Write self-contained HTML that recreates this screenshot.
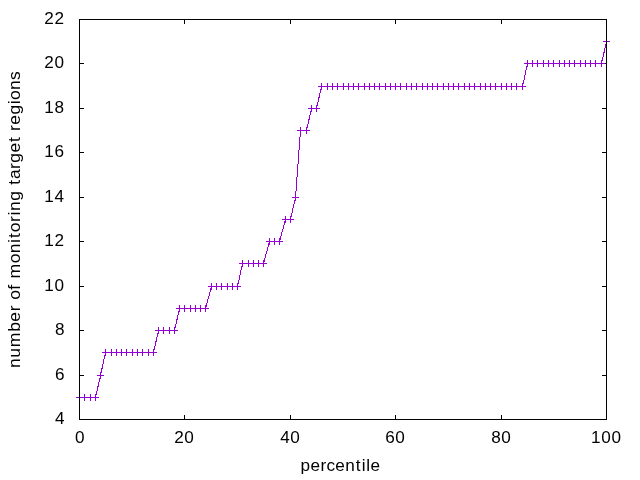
<!DOCTYPE html>
<html><head><meta charset="utf-8"><title>percentile chart</title><style>
html,body{margin:0;padding:0;background:#fff;width:640px;height:480px;overflow:hidden}
svg{display:block;will-change:transform}
text{font-family:"Liberation Sans", sans-serif;font-size:17px;fill:#000}
</style></head><body>
<svg width="640" height="480" viewBox="0 0 640 480">
<rect width="640" height="480" fill="#fff"/>
<path d="M79,419.5h5M607,419.5h-5M79,375.5h5M607,375.5h-5M79,330.5h5M607,330.5h-5M79,286.5h5M607,286.5h-5M79,241.5h5M607,241.5h-5M79,197.5h5M607,197.5h-5M79,152.5h5M607,152.5h-5M79,108.5h5M607,108.5h-5M79,63.5h5M607,63.5h-5M79,19.5h5M607,19.5h-5M79.5,420v-5M79.5,19v5M184.5,420v-5M184.5,19v5M290.5,420v-5M290.5,19v5M395.5,420v-5M395.5,19v5M501.5,420v-5M501.5,19v5M606.5,420v-5M606.5,19v5" stroke="#000" stroke-width="1" fill="none" shape-rendering="crispEdges"/>
<g stroke="#9400d3" stroke-width="1" fill="none" shape-rendering="crispEdges">
<path d="M79.5,397.5L84.5,397.5L90.5,397.5L95.5,397.5L100.5,375.5L105.5,352.5L111.5,352.5L116.5,352.5L121.5,352.5L126.5,352.5L132.5,352.5L137.5,352.5L142.5,352.5L148.5,352.5L153.5,352.5L158.5,330.5L163.5,330.5L169.5,330.5L174.5,330.5L179.5,308.5L184.5,308.5L190.5,308.5L195.5,308.5L200.5,308.5L205.5,308.5L211.5,286.5L216.5,286.5L221.5,286.5L227.5,286.5L232.5,286.5L237.5,286.5L242.5,263.5L248.5,263.5L253.5,263.5L258.5,263.5L263.5,263.5L269.5,241.5L274.5,241.5L279.5,241.5L285.5,219.5L290.5,219.5L295.5,197.5L300.5,130.5L306.5,130.5L311.5,108.5L316.5,108.5L321.5,86.5L327.5,86.5L332.5,86.5L337.5,86.5L343.5,86.5L348.5,86.5L353.5,86.5L358.5,86.5L364.5,86.5L369.5,86.5L374.5,86.5L379.5,86.5L385.5,86.5L390.5,86.5L395.5,86.5L400.5,86.5L406.5,86.5L411.5,86.5L416.5,86.5L422.5,86.5L427.5,86.5L432.5,86.5L437.5,86.5L443.5,86.5L448.5,86.5L453.5,86.5L458.5,86.5L464.5,86.5L469.5,86.5L474.5,86.5L480.5,86.5L485.5,86.5L490.5,86.5L495.5,86.5L501.5,86.5L506.5,86.5L511.5,86.5L516.5,86.5L522.5,86.5L527.5,63.5L532.5,63.5L537.5,63.5L543.5,63.5L548.5,63.5L553.5,63.5L559.5,63.5L564.5,63.5L569.5,63.5L574.5,63.5L580.5,63.5L585.5,63.5L590.5,63.5L595.5,63.5L601.5,63.5L606.5,41.5"/>
<path d="M76,397.5h7M79.5,394v7M81,397.5h7M84.5,394v7M87,397.5h7M90.5,394v7M92,397.5h7M95.5,394v7M97,375.5h7M100.5,372v7M102,352.5h7M105.5,349v7M108,352.5h7M111.5,349v7M113,352.5h7M116.5,349v7M118,352.5h7M121.5,349v7M123,352.5h7M126.5,349v7M129,352.5h7M132.5,349v7M134,352.5h7M137.5,349v7M139,352.5h7M142.5,349v7M145,352.5h7M148.5,349v7M150,352.5h7M153.5,349v7M155,330.5h7M158.5,327v7M160,330.5h7M163.5,327v7M166,330.5h7M169.5,327v7M171,330.5h7M174.5,327v7M176,308.5h7M179.5,305v7M181,308.5h7M184.5,305v7M187,308.5h7M190.5,305v7M192,308.5h7M195.5,305v7M197,308.5h7M200.5,305v7M202,308.5h7M205.5,305v7M208,286.5h7M211.5,283v7M213,286.5h7M216.5,283v7M218,286.5h7M221.5,283v7M224,286.5h7M227.5,283v7M229,286.5h7M232.5,283v7M234,286.5h7M237.5,283v7M239,263.5h7M242.5,260v7M245,263.5h7M248.5,260v7M250,263.5h7M253.5,260v7M255,263.5h7M258.5,260v7M260,263.5h7M263.5,260v7M266,241.5h7M269.5,238v7M271,241.5h7M274.5,238v7M276,241.5h7M279.5,238v7M282,219.5h7M285.5,216v7M287,219.5h7M290.5,216v7M292,197.5h7M295.5,194v7M297,130.5h7M300.5,127v7M303,130.5h7M306.5,127v7M308,108.5h7M311.5,105v7M313,108.5h7M316.5,105v7M318,86.5h7M321.5,83v7M324,86.5h7M327.5,83v7M329,86.5h7M332.5,83v7M334,86.5h7M337.5,83v7M340,86.5h7M343.5,83v7M345,86.5h7M348.5,83v7M350,86.5h7M353.5,83v7M355,86.5h7M358.5,83v7M361,86.5h7M364.5,83v7M366,86.5h7M369.5,83v7M371,86.5h7M374.5,83v7M376,86.5h7M379.5,83v7M382,86.5h7M385.5,83v7M387,86.5h7M390.5,83v7M392,86.5h7M395.5,83v7M397,86.5h7M400.5,83v7M403,86.5h7M406.5,83v7M408,86.5h7M411.5,83v7M413,86.5h7M416.5,83v7M419,86.5h7M422.5,83v7M424,86.5h7M427.5,83v7M429,86.5h7M432.5,83v7M434,86.5h7M437.5,83v7M440,86.5h7M443.5,83v7M445,86.5h7M448.5,83v7M450,86.5h7M453.5,83v7M455,86.5h7M458.5,83v7M461,86.5h7M464.5,83v7M466,86.5h7M469.5,83v7M471,86.5h7M474.5,83v7M477,86.5h7M480.5,83v7M482,86.5h7M485.5,83v7M487,86.5h7M490.5,83v7M492,86.5h7M495.5,83v7M498,86.5h7M501.5,83v7M503,86.5h7M506.5,83v7M508,86.5h7M511.5,83v7M513,86.5h7M516.5,83v7M519,86.5h7M522.5,83v7M524,63.5h7M527.5,60v7M529,63.5h7M532.5,60v7M534,63.5h7M537.5,60v7M540,63.5h7M543.5,60v7M545,63.5h7M548.5,60v7M550,63.5h7M553.5,60v7M556,63.5h7M559.5,60v7M561,63.5h7M564.5,60v7M566,63.5h7M569.5,60v7M571,63.5h7M574.5,60v7M577,63.5h7M580.5,60v7M582,63.5h7M585.5,60v7M587,63.5h7M590.5,60v7M592,63.5h7M595.5,60v7M598,63.5h7M601.5,60v7M603,41.5h7M606.5,38v7"/>
</g>
<rect x="79.5" y="19.5" width="527" height="400" stroke="#000" stroke-width="1" fill="none" shape-rendering="crispEdges"/>
<text transform="translate(65.05,423.60) scale(1.0100,1)" x="-9.86" font-size="17.30">4</text>
<text transform="translate(65.05,379.60) scale(1.0100,1)" x="-9.86" font-size="17.30">6</text>
<text transform="translate(65.05,334.60) scale(1.0100,1)" x="-9.86" font-size="17.30">8</text>
<text transform="translate(64.40,290.60) scale(1.0100,1)" x="-19.93 -9.86" font-size="17.30">10</text>
<text transform="translate(64.40,245.60) scale(1.0100,1)" x="-19.93 -9.86" font-size="17.30">12</text>
<text transform="translate(64.40,201.60) scale(1.0100,1)" x="-19.93 -9.86" font-size="17.30">14</text>
<text transform="translate(64.40,156.60) scale(1.0100,1)" x="-19.93 -9.86" font-size="17.30">16</text>
<text transform="translate(64.40,112.60) scale(1.0100,1)" x="-19.93 -9.86" font-size="17.30">18</text>
<text transform="translate(64.40,67.60) scale(1.0100,1)" x="-19.93 -9.86" font-size="17.30">20</text>
<text transform="translate(64.40,23.60) scale(1.0100,1)" x="-19.93 -9.86" font-size="17.30">22</text>
<text transform="translate(79.90,442.50) scale(1.0100,1)" x="-4.76" font-size="17.10">0</text>
<text transform="translate(184.10,442.50) scale(1.0100,1)" x="-9.80 0.27" font-size="17.10">20</text>
<text transform="translate(290.10,442.50) scale(1.0100,1)" x="-9.80 0.27" font-size="17.10">40</text>
<text transform="translate(395.10,442.50) scale(1.0100,1)" x="-9.80 0.27" font-size="17.10">60</text>
<text transform="translate(501.10,442.50) scale(1.0100,1)" x="-9.80 0.27" font-size="17.10">80</text>
<text transform="translate(606.10,442.50) scale(1.0100,1)" x="-14.84 -4.77 5.32" font-size="17.10">100</text>
<text transform="translate(340.20,470.70) scale(1.0100,1)" x="-39.43 -29.53 -19.63 -13.65 -4.91 4.99 15.53 21.32 25.72 29.89" font-size="17.40">percentile</text>
<text transform="translate(19.55,219.90) rotate(-90) scale(1.0300,1)" x="-143.90 -133.93 -123.62 -108.62 -98.78 -88.81 -82.61 -77.65 -67.71 -62.43 -57.00 -42.15 -32.36 -22.35 -17.54 -12.02 -2.07 4.29 8.63 18.61 28.46 34.06 39.59 49.41 55.60 65.44 75.73 81.31 86.42 92.42 102.25 112.26 116.44 126.23 135.79" font-size="17.00">number of monitoring target regions</text>
</svg>
</body></html>
